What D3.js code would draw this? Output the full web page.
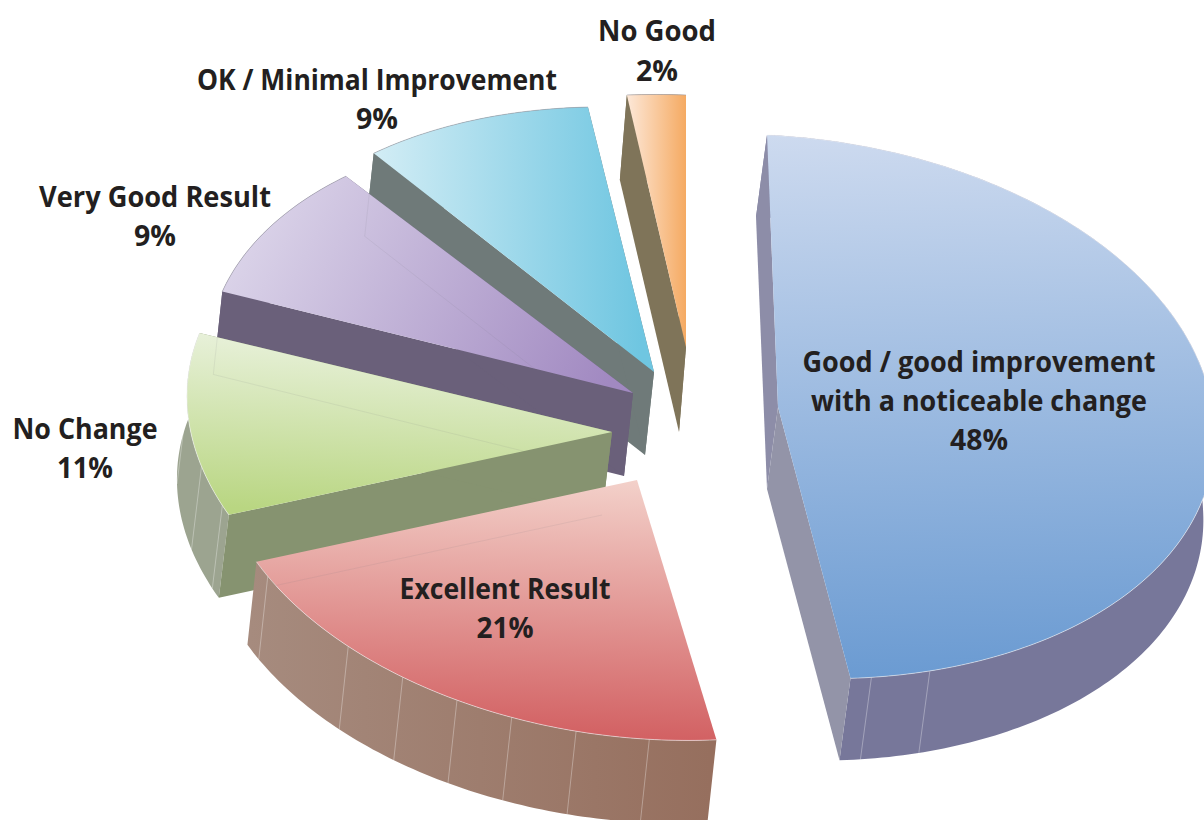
<!DOCTYPE html>
<html>
<head>
<meta charset="utf-8">
<script src="https://cdn.jsdelivr.net/npm/d3@7/dist/d3.min.js"></script>
<style>
  html, body { margin: 0; padding: 0; background: #fff; overflow: hidden; }
  text { font-family: "Open Sans", sans-serif; font-weight: 700; font-size: 29px; fill: #231f20; text-anchor: middle; }
</style>
</head>
<body>
<div id="chart"></div>
<script>
// values, clockwise from the top of the pie
const categories = ["Good / good improvement with a noticeable change", "Excellent Result", "No Change",
    "Very Good Result", "OK / Minimal Improvement", "No Good"];
const percents = [48, 21, 11, 9, 9, 2];

const width = 1204, height = 820;

// how each exploded slice sits on the page: apex, pie-top vector above and below the apex,
// pie-right vector, extrusion
const apexes = [[778, 407], [637, 480], [612, 432], [633, 393], [654, 372], [686, 347]];
const topVecs = [[-11, -272], [-27, -260], [-30, -268], [-21, -264], [-13, -264], [0, -252]];
const lowVecs = [[-18, -271], [-27, -260], [-30, -268], [-21, -264], [-13, -264], [0, -252]];
const rightVecs = [[436, 20], [420, 15], [424, 17], [425, 21], [424, 24], [472, 16]];
const depths = [[-11, 82], [-9, 83], [-10, 83], [-9, 83], [-9, 83], [-7, 85]];

// light seams on the outer wall, degrees clockwise from the top
const seams = [[162, 170], [182, 192, 201, 209, 217.5, 227, 245], [250.5, 259, 273], [], [], []];

// top gradient [x1, y1, x2, y2, from, to]
const topFills = [
    [790, 135, 810, 680, "#cddaef", "#6b9bd2"],
    [640, 480, 630, 740, "#f3d1ca", "#d26062"],
    [400, 334, 390, 516, "#eaf2de", "#b9d682"],
    [250, 215, 600, 400, "#dbd4e9", "#a189c1"],
    [373, 200, 640, 200, "#d3edf5", "#6fc6e1"],
    [627, 200, 686, 200, "#fde8d8", "#f5aa62"]
];
// the red slice's cut faces are hidden under its own top
const startFaces = ["#8d8da8", "none", "#869370", "#6a607a", "#6f7a79", "#7f7459"];
const endFaces = ["#9394a8", "none", "#869370", "#6a607a", "#6f7a79", "#7f7459"];
const rimFrom = ["#77779a", "#a68b7e", "#9ca490", "#6a607a", "#6f7a79", "#7f7459"];
const rimTo = ["#77779a", "#966f5e", "#9ca490", "#6a607a", "#6f7a79", "#7f7459"];
// paint order, far slices first
const paintOrder = [5, 4, 3, 2, 1, 0];

// label lines: text, centre x, baseline y, width
const labelLines = [
    ["No Good", 657, 41, 118], ["2%", 657, 81, 42],
    ["OK / Minimal Improvement", 377, 90, 360], ["9%", 377, 129, 42],
    ["Very Good Result", 155, 207, 232], ["9%", 155, 246, 42],
    ["No Change", 85, 439, 145], ["11%", 85, 478, 56],
    ["Excellent Result", 505, 599, 211], ["21%", 505, 638, 57],
    ["Good / good improvement", 979, 372, 353], ["with a noticeable change", 979, 411, 336], ["48%", 979, 450, 58]
];

const svg = d3.select("#chart").append("svg")
    .attr("width", width)
    .attr("height", height);
const defs = svg.append("defs");

const pie = d3.pie().sort(null).value(d => d);
const arcs = pie(percents);
const line = d3.line();

// pie angle (radians) to page position for slice i
function place(i, angle, radius = 1, down = false) {
    const [px, py] = d3.pointRadial(angle, radius);
    const d = down ? depths[i] : [0, 0];
    const up = py > 0 ? lowVecs[i] : topVecs[i];
    return [
        apexes[i][0] - py * up[0] + px * rightVecs[i][0] + d[0],
        apexes[i][1] - py * up[1] + px * rightVecs[i][1] + d[1]
    ];
}

function arcAngles(a) {
    const n = Math.max(8, Math.ceil((a.endAngle - a.startAngle) * 60));
    return d3.range(n + 1).map(k => a.startAngle + (a.endAngle - a.startAngle) * k / n);
}

function topPath(i) {
    return line([place(i, 0, 0)].concat(arcAngles(arcs[i]).map(t => place(i, t)))) + "Z";
}

function facePath(i, angle) {
    return line([place(i, 0, 0), place(i, angle), place(i, angle, 1, true), place(i, 0, 0, true)]) + "Z";
}

function rimPath(i) {
    const ts = arcAngles(arcs[i]);
    const upper = ts.map(t => place(i, t));
    const lower = ts.slice().reverse().map(t => place(i, t, 1, true));
    return line(upper.concat(lower)) + "Z";
}

topFills.forEach((f, i) => {
    const g = defs.append("linearGradient")
        .attr("id", `top${i}`)
        .attr("gradientUnits", "userSpaceOnUse")
        .attr("x1", f[0]).attr("y1", f[1]).attr("x2", f[2]).attr("y2", f[3]);
    g.append("stop").attr("offset", 0).attr("stop-color", f[4]);
    g.append("stop").attr("offset", 1).attr("stop-color", f[5]);

    const r = defs.append("linearGradient")
        .attr("id", `rim${i}`)
        .attr("gradientUnits", "userSpaceOnUse")
        .attr("x1", 250).attr("y1", 0).attr("x2", 710).attr("y2", 0);
    r.append("stop").attr("offset", 0).attr("stop-color", rimFrom[i]);
    r.append("stop").attr("offset", 1).attr("stop-color", rimTo[i]);

    defs.append("clipPath").attr("id", `clip${i}`)
        .append("path").attr("d", topPath(i));
});

const slices = svg.selectAll(".slice")
    .data(paintOrder)
    .join("g")
    .attr("class", "slice");

slices.append("path")
    .attr("d", rimPath)
    .attr("fill", i => `url(#rim${i})`);

slices.selectAll(".seam")
    .data(i => seams[i].map(deg => ({ i, angle: deg * Math.PI / 180 })))
    .join("path")
    .attr("class", "seam")
    .attr("d", d => line([place(d.i, d.angle), place(d.i, d.angle, 1, true)]))
    .attr("stroke", "#fff")
    .attr("stroke-opacity", 0.4)
    .attr("stroke-width", 0.8)
    .attr("fill", "none");

slices.append("path")
    .attr("d", i => facePath(i, arcs[i].startAngle))
    .attr("fill", i => startFaces[i]);

slices.append("path")
    .attr("d", i => facePath(i, arcs[i].endAngle))
    .attr("fill", i => endFaces[i]);

slices.append("path")
    .attr("d", topPath)
    .attr("fill", i => `url(#top${i})`);

// the wall of the slice behind shows faintly through the translucent top
slices.filter(i => i >= 1 && i <= 3).append("path")
    .attr("d", i => {
        const t = arcs[i + 1].startAngle;
        return line([place(i + 1, t), place(i + 1, t, 1, true), place(i + 1, 0, 0, true)]);
    })
    .attr("clip-path", i => `url(#clip${i})`)
    .attr("fill", "none")
    .attr("stroke", "#77777f")
    .attr("stroke-opacity", 0.16)
    .attr("stroke-width", 0.7);

// fine outer edge of the top face
slices.append("path")
    .attr("d", i => line(arcAngles(arcs[i]).map(t => place(i, t))))
    .attr("fill", "none")
    .attr("stroke", i => i <= 2 ? "#f2f2f4" : "#9a9aa6")
    .attr("stroke-opacity", 0.7)
    .attr("stroke-width", 0.8);

svg.selectAll(".label")
    .data(labelLines)
    .join("text")
    .attr("class", "label")
    .attr("x", d => d[1])
    .attr("y", d => d[2])
    .attr("textLength", d => d[3])
    .attr("lengthAdjust", "spacingAndGlyphs")
    .text(d => d[0]);
</script>
</body>
</html>
